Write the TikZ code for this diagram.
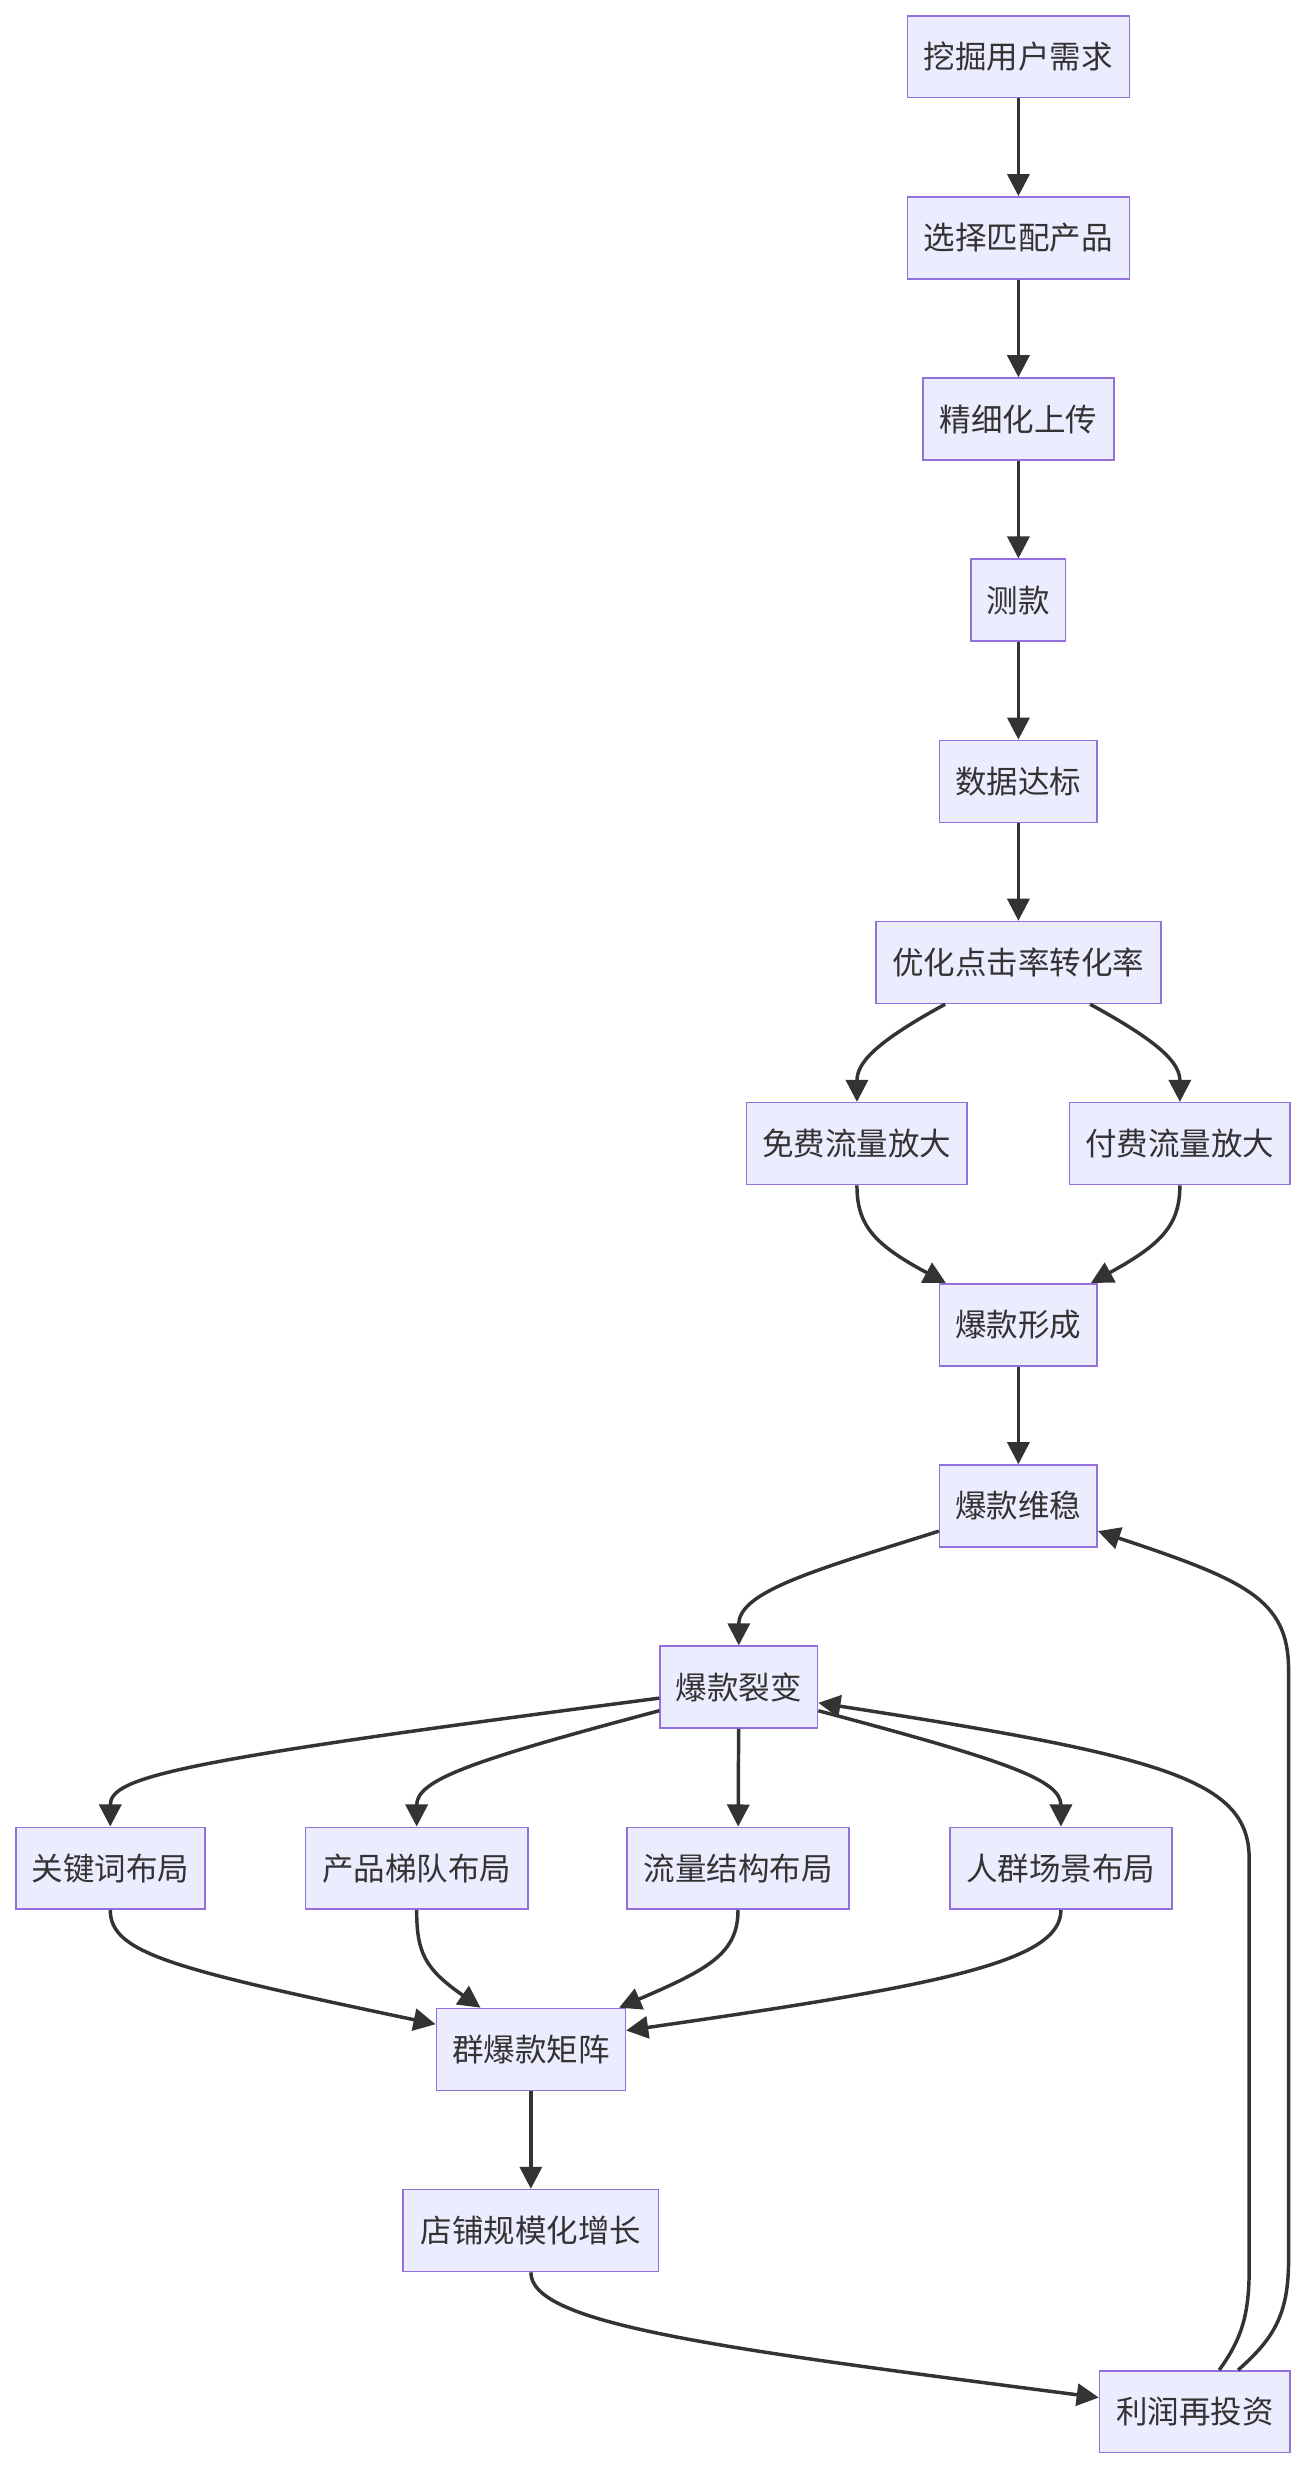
\documentclass[tikz,border=0pt]{standalone}
\usepackage{fontspec}
\newfontfamily\cjk{Noto Sans CJK SC}
\usetikzlibrary{arrows.meta}
\definecolor{nodefill}{HTML}{ECECFF}
\definecolor{nodeline}{HTML}{9370DB}
\definecolor{ink}{HTML}{333333}
\begin{document}
\begin{tikzpicture}[x=1pt,y=-1pt,
  box/.style={draw=nodeline, fill=nodefill, line width=1pt, minimum height=52pt,
    inner sep=0pt, font=\cjk\fontsize{20}{24}\selectfont, text=ink},
  edge/.style={draw=ink, line width=2.2pt, -{Triangle[length=14pt,width=14pt]}}]
\useasboundingbox[fill=white] (0,0) rectangle (830,1568);
\node[box, minimum width=141pt] (n1) at (646.5,36) {挖掘用户需求};
\node[box, minimum width=141pt] (n2) at (646.5,151) {选择匹配产品};
\node[box, minimum width=121pt] (n3) at (646.5,266) {精细化上传};
\node[box, minimum width=60pt] (n4) at (646.5,381) {测款};
\node[box, minimum width=100pt] (n5) at (646.5,496) {数据达标};
\node[box, minimum width=181pt] (n6) at (646.5,611) {优化点击率转化率};
\node[box, minimum width=140pt] (n7) at (544,726) {免费流量放大};
\node[box, minimum width=140pt] (n8) at (749,726) {付费流量放大};
\node[box, minimum width=100pt] (n9) at (646.5,841) {爆款形成};
\node[box, minimum width=100pt] (n10) at (646.5,956) {爆款维稳};
\node[box, minimum width=100pt] (n11) at (469,1071) {爆款裂变};
\node[box, minimum width=120pt] (n12) at (70,1186) {关键词布局};
\node[box, minimum width=141pt] (n13) at (264.5,1186) {产品梯队布局};
\node[box, minimum width=141pt] (n14) at (468.5,1186) {流量结构布局};
\node[box, minimum width=141pt] (n15) at (673.5,1186) {人群场景布局};
\node[box, minimum width=120pt] (n16) at (337,1301) {群爆款矩阵};
\node[box, minimum width=162pt] (n17) at (337,1416) {店铺规模化增长};
\node[box, minimum width=121pt] (n18) at (758.5,1531) {利润再投资};

\draw[edge] (n1) -- (n2);
\draw[edge] (n2) -- (n3);
\draw[edge] (n3) -- (n4);
\draw[edge] (n4) -- (n5);
\draw[edge] (n5) -- (n6);
\draw[edge] ([xshift=-46.5pt]n6.south) .. controls (555,662) and (544,675) .. (n7.north);
\draw[edge] ([xshift=45.5pt]n6.south) .. controls (737,662) and (749,675) .. (n8.north);
\draw[edge] (n7.south) .. controls (544,778) and (555,790) .. ([xshift=-46pt]n9.north);
\draw[edge] (n8.south) .. controls (749,778) and (737,790) .. ([xshift=46pt]n9.north);
\draw[edge] (n9) -- (n10);
\draw[edge] ([yshift=-16pt]n10.west) .. controls (520,996) and (469,1010) .. (n11.north);
\draw[edge] ([yshift=-7pt]n11.west) .. controls (110,1118) and (70,1128) .. (n12.north);
\draw[edge] ([yshift=-15pt]n11.west) .. controls (298,1118) and (264.5,1130) .. (n13.north);
\draw[edge] (n11) -- (n14);
\draw[edge] ([yshift=-15pt]n11.east) .. controls (640,1118) and (673.5,1130) .. (n15.north);
\draw[edge] (n12.south) .. controls (70,1240) and (110,1250) .. ([yshift=16pt]n16.west);
\draw[edge] (n13.south) .. controls (264.5,1240) and (270,1250) .. ([xshift=-32pt]n16.north);
\draw[edge] (n14.south) .. controls (468.5,1240) and (450,1250) .. ([xshift=56pt]n16.north);
\draw[edge] (n15.south) .. controls (673.5,1245) and (600,1260) .. ([yshift=12pt]n16.east);
\draw[edge] (n16) -- (n17);
\draw[edge] (n17.south) .. controls (337,1475) and (450,1490) .. ([yshift=9pt]n18.west);
\draw[edge] ([xshift=15.5pt]n18.north) .. controls (788,1485) and (793,1470) .. (793,1440)
  -- (793,1180) .. controls (793,1130) and (740,1115) .. ([yshift=-10pt]n11.east);
\draw[edge] ([xshift=27.5pt]n18.north) .. controls (808,1485) and (818,1470) .. (818,1435)
  -- (818,1060) .. controls (818,1015) and (790,1003) .. ([yshift=-16pt]n10.east);
\end{tikzpicture}
\end{document}
